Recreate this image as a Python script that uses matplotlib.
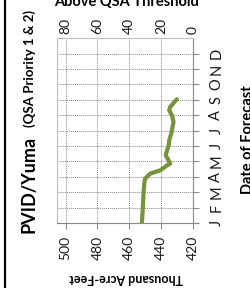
import matplotlib
matplotlib.use("Agg")
import matplotlib.pyplot as plt
from matplotlib.lines import Line2D

# Data (forecast date in months since Jan 1, value in thousand acre-feet)
forecast_month = [0.00, 1.04, 1.91, 2.66, 2.88, 3.21, 3.42, 3.75, 3.86, 4.07,
                  4.40, 4.66, 5.05, 5.37, 5.81, 6.13, 6.56, 7.00, 7.32, 7.54, 8.04]
forecast_value = [452.0, 451.4, 451.0, 450.4, 450.0, 446.8, 440.5, 436.1, 434.2, 435.2,
                  437.0, 436.3, 435.1, 434.8, 433.5, 432.9, 432.1, 433.1, 434.8, 434.2, 430.0]
month_labels = ["J", "F", "M", "A", "M", "J", "J", "A", "S", "O", "N", "D"]
value_ticks = [500, 480, 460, 440, 420]
threshold_ticks = [80, 60, 40, 20, 0]
qsa_threshold = 420

plt.rcParams['font.family'] = ['Lato', 'DejaVu Sans']

W, H = 250, 288
fig = plt.figure(figsize=(W / 100, H / 100), dpi=100)

def fx(x):
    return x / W

def fy(y):
    return 1 - y / H

L, R, T, B = 57.3, 192.7, 38.3, 223.0
ax = fig.add_axes([fx(L), fy(B), fx(R) - fx(L), fy(T) - fy(B)])

ax.plot(forecast_value, forecast_month, color="#77933C", lw=3.0, solid_capstyle="round")

ax.set_xlim(505.3, 420)
ax.set_ylim(0, 12)

ax.set_xticks(value_ticks)
ax.set_xticklabels([str(v) for v in value_ticks], rotation=90)
ax.set_yticks(range(12))
ax.set_yticklabels(month_labels, rotation=90, va="center")
ax.yaxis.tick_right()

ax.tick_params(axis="x", length=4, color="#888888", labelsize=10, pad=5, labelcolor="#1a1a1a")
ax.tick_params(axis="y", length=4, color="#888888", labelsize=10.5, pad=8, labelcolor="#1a1a1a")

for s in ax.spines.values():
    s.set_color("#BBBBBB")
    s.set_linewidth(0.8)
ax.spines["right"].set_color("#888888")
ax.spines["bottom"].set_color("#888888")

ax.grid(True, which="major", linestyle=(0, (1, 1)), color="#888888", linewidth=0.7)
ax.set_axisbelow(True)

sec = ax.secondary_xaxis("top", functions=(lambda v: v - qsa_threshold, lambda t: t + qsa_threshold))
sec.set_xticks(threshold_ticks)
sec.set_xticklabels([str(t) for t in threshold_ticks], rotation=90)
sec.tick_params(length=0, labelsize=10, pad=3, labelcolor="#1a1a1a")
sec.spines["top"].set_visible(False)

# Axis titles
fig.text(fx(127), fy(2.5), "Above QSA Threshold", fontsize=10.5, fontweight="bold",
         ha="center", va="center", color="#000000")
fig.text(fx(126), fy(278), "Thousand Acre-Feet", fontsize=9, fontweight="bold",
         ha="center", va="center", rotation=180, color="#000000")
fig.text(fx(248), fy(140), "Date of Forecast", fontsize=10.5, fontweight="bold",
         ha="center", va="center", rotation=90, color="#000000")

# Chart title
fig.text(fx(29), fy(233), "PVID/Yuma", fontsize=13, fontweight="bold",
         ha="left", va="center", rotation=90, rotation_mode="anchor", color="#000000")
fig.text(fx(29.5), fy(127), "(QSA Priority 1 & 2)", fontsize=9.5, fontweight="bold",
         ha="left", va="center", rotation=90, rotation_mode="anchor", color="#000000")

# Left border line
fig.add_artist(Line2D([fx(5), fx(5)], [0, 1], color="black", lw=1.6, transform=fig.transFigure))

fig.savefig("out.png", dpi=100)
